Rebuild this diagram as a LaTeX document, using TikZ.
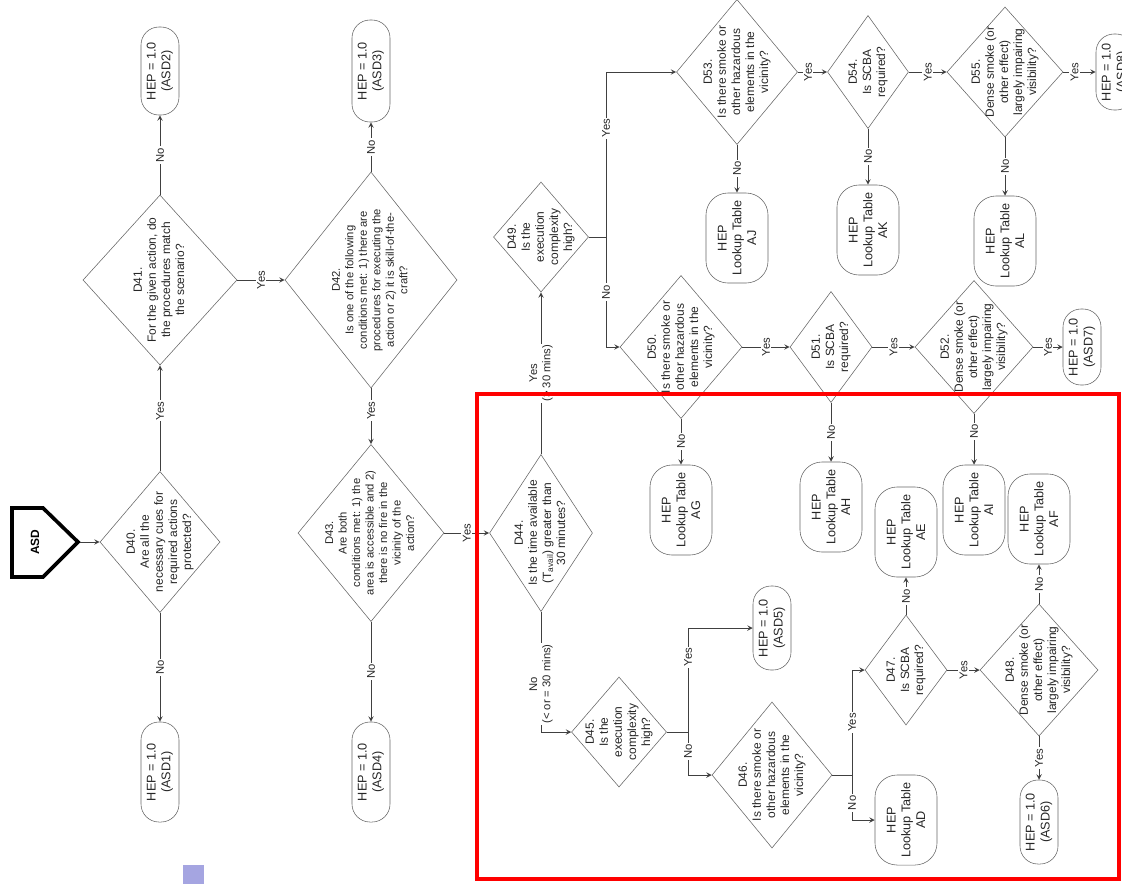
\documentclass[tikz,border=0pt]{standalone}
\usepackage{fontspec}
\setmainfont{Liberation Sans}
\usetikzlibrary{shapes.geometric}
\definecolor{lav}{RGB}{165,165,225}
\newcommand{\dtxt}[1]{\makebox[0pt]{\smash{\raisebox{-0.25em}{\begin{tabular}{@{}c@{}}#1\end{tabular}}}}}

\begin{document}
\begin{tikzpicture}[x=0.025cm, y=-0.025cm,
  dec/.style 2 args={draw=black!60, diamond, rotate=90, inner sep=0pt, minimum width=#1, minimum height=#2, text=black!85, font=\fontsize{8.5}{10}\selectfont},
  hep/.style={draw=black!60, rectangle, rounded corners=0.45cm, rotate=90, inner sep=0pt, align=center, minimum width=#1, minimum height=0.95cm, text=black!85, font=\fontsize{9}{10.5}\selectfont},
  lut/.style={draw=black!60, rectangle, rounded corners=0.55cm, rotate=90, inner sep=0pt, align=center, minimum width=2.25cm, minimum height=1.55cm, text=black!85, font=\fontsize{9}{10.5}\selectfont},
  lab/.style={fill=white, rotate=90, inner sep=1pt, align=center, text=black!85, font=\fontsize{8}{9.5}\selectfont},
  go/.style={-stealth, black!75, line width=0.7pt}]
  \useasboundingbox (0,0) rectangle (1122,884);

  % Start
  \node[rotate=90, font=\bfseries\fontsize{8.5}{10}\selectfont] (asd) at (35,542) {ASD};
  \draw[line width=2.6pt] (12,508) -- (43,508) -- (78,542) -- (43,577) -- (12,577) -- cycle;
  \coordinate (asdtip) at (80,542);

  % First column
  \node[dec={3.525cm}{3.0cm}] (d40) at (160,542) {\dtxt{D40.\\Are all the\\necessary cues for\\required actions\\protected?}};
  \node[dec={4.25cm}{3.85cm}] (d41) at (160,280) {\dtxt{D41.\\For the given action, do\\the procedures match\\the scenario?}};
  \node[hep=2.5cm] (asd1) at (160,772) {HEP = 1.0\\(ASD1)};
  \node[hep=2.2cm] (asd2) at (160,71) {HEP = 1.0\\(ASD2)};

  % Second column
  \node[dec={5.4cm}{4.3cm}, font=\fontsize{8}{9.6}\selectfont] (d42) at (371,280) {\dtxt{D42.\\Is one of the following\\conditions met: 1) there are\\procedures for executing the\\action or 2) it is skill-of-the-\\craft?}};
  \node[dec={4.425cm}{3.65cm}, font=\fontsize{8}{9.6}\selectfont] (d43) at (371,533) {\dtxt{D43.\\Are both\\conditions met: 1) the\\area is accessible and 2)\\there is no fire in the\\vicinity of the\\action?}};
  \node[hep=2.55cm] (asd3) at (371,71) {HEP = 1.0\\(ASD3)};
  \node[hep=2.5cm] (asd4) at (371,772) {HEP = 1.0\\(ASD4)};

  % Time available
  \node[dec={3.925cm}{2.575cm}] (d44) at (541,533) {\dtxt{D44.\\Is the time available\\(T\textsubscript{avail}) greater than\\30 minutes?}};
  \node[dec={2.75cm}{2.375cm}] (d49) at (541,237) {\dtxt{D49.\\Is the\\execution\\complexity\\high?}};
  \node[dec={2.75cm}{2.375cm}] (d45) at (619,732) {\dtxt{D45.\\Is the\\execution\\complexity\\high?}};

  % Short time branch
  \node[hep=2.1cm] (asd5) at (772,628) {HEP = 1.0\\(ASD5)};
  \node[dec={3.65cm}{3.0cm}] (d46) at (772,775) {\dtxt{D46.\\Is there smoke or\\other hazardous\\elements in the\\vicinity?}};
  \node[dec={2.75cm}{2.05cm}] (d47) at (906,670) {\dtxt{D47.\\Is SCBA\\required?}};
  \node[lut] (ad) at (906,820) {HEP\\Lookup Table\\AD};
  \node[lut] (ae) at (906,532) {HEP\\Lookup Table\\AE};
  \node[dec={3.3cm}{2.95cm}] (d48) at (1039,670) {\dtxt{D48.\\Dense smoke (or\\other effect)\\largely impairing\\visibility?}};
  \node[lut] (af) at (1039,519) {HEP\\Lookup Table\\AF};
  \node[hep=2.1cm] (asd6) at (1039,822) {HEP = 1.0\\(ASD6)};

  % Long time, low complexity
  \node[dec={3.575cm}{3.05cm}] (d50) at (681,347) {\dtxt{D50.\\Is there smoke or\\other hazardous\\elements in the\\vicinity?}};
  \node[dec={2.775cm}{2.05cm}] (d51) at (831,347) {\dtxt{D51.\\Is SCBA\\required?}};
  \node[dec={3.325cm}{2.95cm}] (d52) at (974,347) {\dtxt{D52.\\Dense smoke (or\\other effect)\\largely impairing\\visibility?}};
  \node[lut] (ag) at (681,510) {HEP\\Lookup Table\\AG};
  \node[lut] (ah) at (831,507) {HEP\\Lookup Table\\AH};
  \node[lut] (ai) at (974,510) {HEP\\Lookup Table\\AI};
  \node[hep=1.9cm] (asd7) at (1082,347) {HEP = 1.0\\(ASD7)};

  % Long time, high complexity
  \node[dec={3.625cm}{3.025cm}] (d53) at (737,72) {\dtxt{D53.\\Is there smoke or\\other hazardous\\elements in the\\vicinity?}};
  \node[dec={2.825cm}{2.025cm}] (d54) at (868,72) {\dtxt{D54.\\Is SCBA\\required?}};
  \node[dec={3.25cm}{2.9cm}] (d55) at (1005,72) {\dtxt{D55.\\Dense smoke (or\\other effect)\\largely impairing\\visibility?}};
  \node[lut] (aj) at (737,238) {HEP\\Lookup Table\\AJ};
  \node[lut] (ak) at (868,230) {HEP\\Lookup Table\\AK};
  \node[lut] (al) at (1005,241) {HEP\\Lookup Table\\AL};
  \node[hep=1.9cm] (asd8) at (1115,72) {HEP = 1.0\\(ASD8)};

  % Junctions
  \coordinate (j45) at (688,732);
  \coordinate (j46) at (852,775);
  \coordinate (j49) at (606,237);

  % Connections
  \draw[go] (asdtip) -- (d40);
  \draw[go] (d40) -- node[lab, pos=0.57]{Yes} (d41);
  \draw[go] (d40) -- node[lab]{No} (asd1);
  \draw[go] (d41) -- node[lab]{No} (asd2);
  \draw[go] (d41) -- node[lab]{Yes} (d42);
  \draw[go] (d42) -- node[lab]{No} (asd3);
  \draw[go] (d42) -- node[lab, pos=0.4]{Yes} (d43);
  \draw[go] (d43) -- node[lab]{No} (asd4);
  \draw[go] (d43) -- node[lab]{Yes} (d44);
  \draw[go] (d44) -- node[lab]{Yes\\(\textgreater{} 30 mins)} (d49);
  \draw[go] (d44) |- node[lab, pos=0.3]{No\\(\textless{} or = 30 mins)} (d45);

  \draw[go, -] (d45) -- (j45);
  \draw[go] (j45) |- node[lab, pos=0.36]{Yes} (asd5);
  \draw[go] (j45) |- node[lab, pos=0.23]{No} (d46);
  \draw[go, -] (d46) -- (j46);
  \draw[go] (j46) |- node[lab, pos=0.25]{Yes} (d47);
  \draw[go] (j46) |- node[lab, pos=0.31]{No} (ad);
  \draw[go] (d47) -- node[lab]{No} (ae);
  \draw[go] (d47) -- node[lab]{Yes} (d48);
  \draw[go] (d48) -- node[lab]{No} (af);
  \draw[go] (d48) -- node[lab]{Yes} (asd6);

  \draw[go, -] (d49) -- (j49);
  \draw[go] (j49) |- node[lab, pos=0.33]{Yes} (d53);
  \draw[go] (j49) |- node[lab, pos=0.25]{No} (d50);
  \draw[go] (d53) -- node[lab]{No} (aj);
  \draw[go] (d53) -- node[lab, pos=0.35]{Yes} (d54);
  \draw[go] (d54) -- node[lab]{No} (ak);
  \draw[go] (d54) -- node[lab]{Yes} (d55);
  \draw[go] (d55) -- node[lab]{No} (al);
  \draw[go] (d55) -- node[lab, pos=0.35]{Yes} (asd8);
  \draw[go] (d50) -- node[lab]{No} (ag);
  \draw[go] (d50) -- node[lab]{Yes} (d51);
  \draw[go] (d51) -- node[lab]{No} (ah);
  \draw[go] (d51) -- node[lab]{Yes} (d52);
  \draw[go] (d52) -- node[lab, pos=0.35]{No} (ai);
  \draw[go] (d52) -- node[lab]{Yes} (asd7);

  % Marks
  \fill[lav] (183,865) rectangle (204,884);
  \draw[red, line width=3.5pt] (477,394) rectangle (1119,879);
\end{tikzpicture}
\end{document}
